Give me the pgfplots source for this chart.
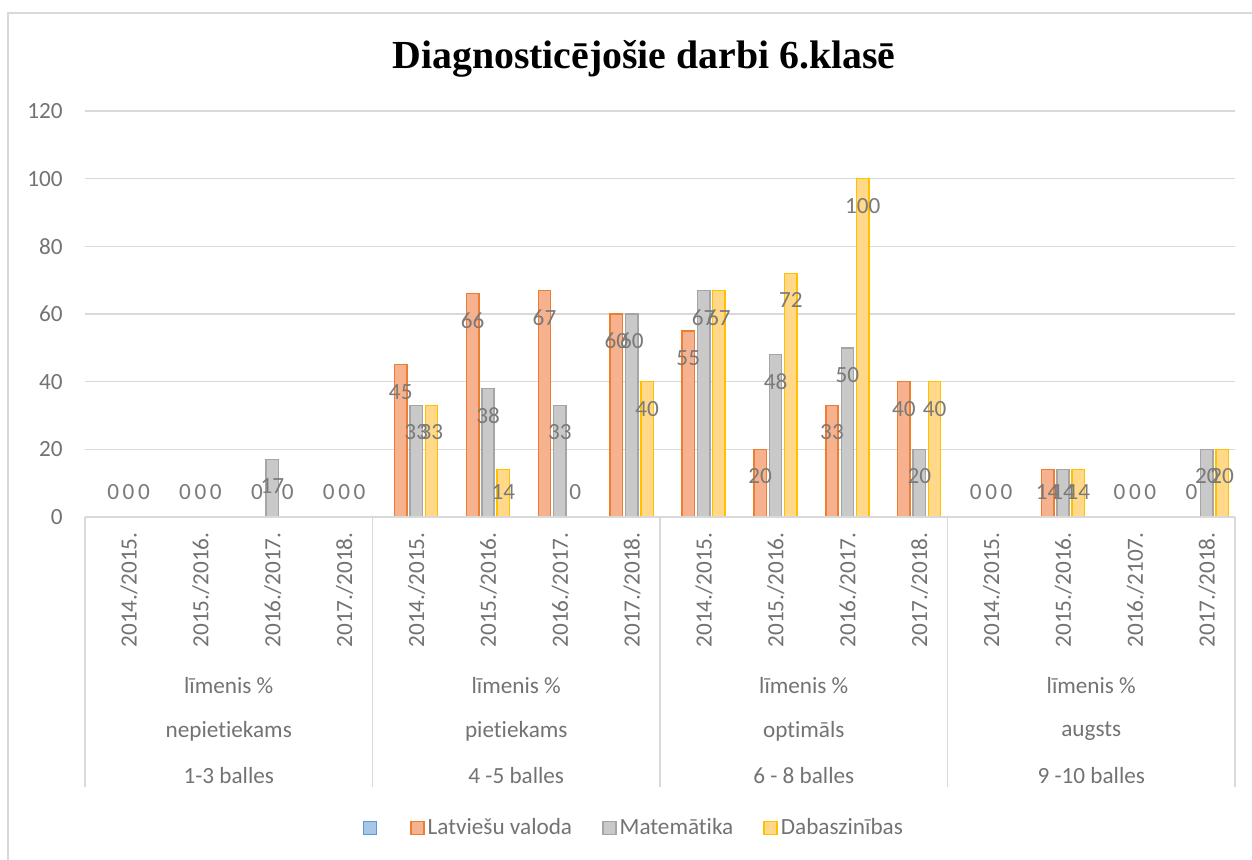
\documentclass[border=0pt]{standalone}
\usepackage{fontspec}
\setmainfont{Carlito}[Ligatures=NoCommon]
\newfontfamily\titlefont{Liberation Serif}
\usepackage{pgfplots}
\usepackage{pgfplotstable}
\pgfplotsset{compat=1.18}
\definecolor{txt}{HTML}{737373}
\definecolor{lblc}{HTML}{7A7A7A}
\definecolor{gridc}{HTML}{D9D9D9}
\definecolor{orD}{HTML}{ED7D31}\definecolor{orF}{HTML}{F6B28F}
\definecolor{grD}{HTML}{A5A5A5}\definecolor{grF}{HTML}{C9C9C9}
\definecolor{yeD}{HTML}{FFC000}\definecolor{yeF}{HTML}{FFD88A}
\definecolor{blD}{HTML}{5B9BD5}\definecolor{blF}{HTML}{A8C6E8}
\newcommand{\lbl}{\fontsize{11.6}{14}\selectfont}

% columns: category index, value, label shift (pt)
\pgfplotstableread{
x y s
0 0 12.5
1 0 12.5
2 0 12.5
3 0 12.5
4 45 -13.5
5 66 -13.5
6 67 -13.5
7 60 -13.5
8 55 -13.5
9 20 -13.5
10 33 -13.5
11 40 -13.5
12 0 12.5
13 14 -11.2
14 0 12.5
15 0 12.5
}\latv
\pgfplotstableread{
x y s
0 0 12.5
1 0 12.5
2 17 -13.5
3 0 12.5
4 33 -13.5
5 38 -13.5
6 33 -13.5
7 60 -13.5
8 67 -13.5
9 48 -13.5
10 50 -13.5
11 20 -13.5
12 0 12.5
13 14 -11.2
14 0 12.5
15 20 -13.5
}\mat
\pgfplotstableread{
x y s
0 0 12.5
1 0 12.5
2 0 12.5
3 0 12.5
4 33 -13.5
5 14 -11.2
6 0 12.5
7 40 -13.5
8 67 -13.5
9 72 -13.5
10 100 -13.5
11 40 -13.5
12 0 12.5
13 14 -11.2
14 0 12.5
15 20 -13.5
}\dab

\begin{document}
\begin{tikzpicture}
\path[use as bounding box] (0,0) rectangle (626pt,-430pt);
\fill[white] (0,0) rectangle (626pt,-430pt);
\draw[gridc, line width=0.75pt] (4pt,-430pt) -- (4pt,-6.5pt) -- (626pt,-6.5pt);
\node[anchor=base, inner sep=0pt] at (322pt,-34.5pt)
  {\titlefont\bfseries\fontsize{19.9}{24}\selectfont Diagnosticējošie darbi 6.klasē};
\begin{axis}[
  at={(42.5pt,-258.5pt)}, anchor=south west,
  scale only axis, width=575pt, height=203pt,
  xmin=-0.5, xmax=15.5, ymin=0, ymax=120,
  enlargelimits=false, clip=false,
  ybar, bar width=0.172,
  axis line style={draw=none},
  tick style={draw=none},
  ymajorgrids, grid style={gridc, line width=0.75pt},
  ytick={0,20,...,120},
  xtick={0,...,15},
  xticklabels={2014./2015.,2015./2016.,2016./2017.,2017./2018.,
               2014./2015.,2015./2016.,2016./2017.,2017./2018.,
               2014./2015.,2015./2016.,2016./2017.,2017./2018.,
               2014./2015.,2015./2016.,2016./2107.,2017./2018.},
  /pgf/number format/assume math mode=true,
  ticklabel style={font=\lbl, text=txt},
  yticklabel style={xshift=-7.6pt},
  xticklabel style={rotate=90, anchor=east, yshift=-4pt},
  legend columns=4,
  legend image code/.code={\draw[#1, line width=0.7pt] (0pt,-3.3pt) rectangle (6.6pt,3.3pt);},
  legend style={at={(0.4776,-0.766)}, anchor=center, draw=none, fill=none,
    font=\lbl, text=txt, nodes={inner sep=1.5pt},
    /tikz/every even column/.append style={column sep=13.5pt}},
]
\addlegendimage{draw=blD, fill=blF}
\addlegendentry{}
\pgfplotsset{
  lbls/.style={nodes near coords,
    visualization depends on={\thisrow{s} \as \myshift},
    every node near coord/.append style={font=\lbl, text=lblc, anchor=center, yshift=\myshift pt}}
}
\addplot[draw=orD, fill=orF, line width=0.7pt, bar shift=-0.107, lbls] table[x=x,y=y] {\latv};
\addlegendentry{Latviešu valoda}
\addplot[draw=grD, fill=grF, line width=0.7pt, bar shift=0.107, lbls] table[x=x,y=y] {\mat};
\addlegendentry{Matemātika}
\addplot[draw=yeD, fill=yeF, line width=0.7pt, bar shift=0.32, lbls] table[x=x,y=y] {\dab};
\addlegendentry{Dabaszinības}
\draw[gridc, line width=0.75pt] (axis cs:-0.5,0) -- (axis cs:15.5,0);
\pgfplotsinvokeforeach{-0.5,3.5,7.5,11.5,15.5}{
  \draw[gridc, line width=0.75pt] (axis cs:#1,0) -- ++(0pt,-135pt);
}
\node[font=\lbl, text=txt] at (axis cs:1.5,0) [yshift=-84.5pt] {līmenis \%};
\node[font=\lbl, text=txt] at (axis cs:5.5,0) [yshift=-84.5pt] {līmenis \%};
\node[font=\lbl, text=txt] at (axis cs:9.5,0) [yshift=-84.5pt] {līmenis \%};
\node[font=\lbl, text=txt] at (axis cs:13.5,0) [yshift=-84.5pt] {līmenis \%};
\node[font=\lbl, text=txt] at (axis cs:1.5,0) [yshift=-107pt] {nepietiekams};
\node[font=\lbl, text=txt] at (axis cs:5.5,0) [yshift=-107pt] {pietiekams};
\node[font=\lbl, text=txt] at (axis cs:9.5,0) [yshift=-107pt] {optimāls};
\node[font=\lbl, text=txt] at (axis cs:13.5,0) [yshift=-107pt] {augsts};
\node[font=\lbl, text=txt] at (axis cs:1.5,0) [yshift=-129.5pt] {1-3 balles};
\node[font=\lbl, text=txt] at (axis cs:5.5,0) [yshift=-129.5pt] {4 -5 balles};
\node[font=\lbl, text=txt] at (axis cs:9.5,0) [yshift=-129.5pt] {6 - 8 balles};
\node[font=\lbl, text=txt] at (axis cs:13.5,0) [yshift=-129.5pt] {9 -10 balles};
\end{axis}
\end{tikzpicture}
\end{document}
